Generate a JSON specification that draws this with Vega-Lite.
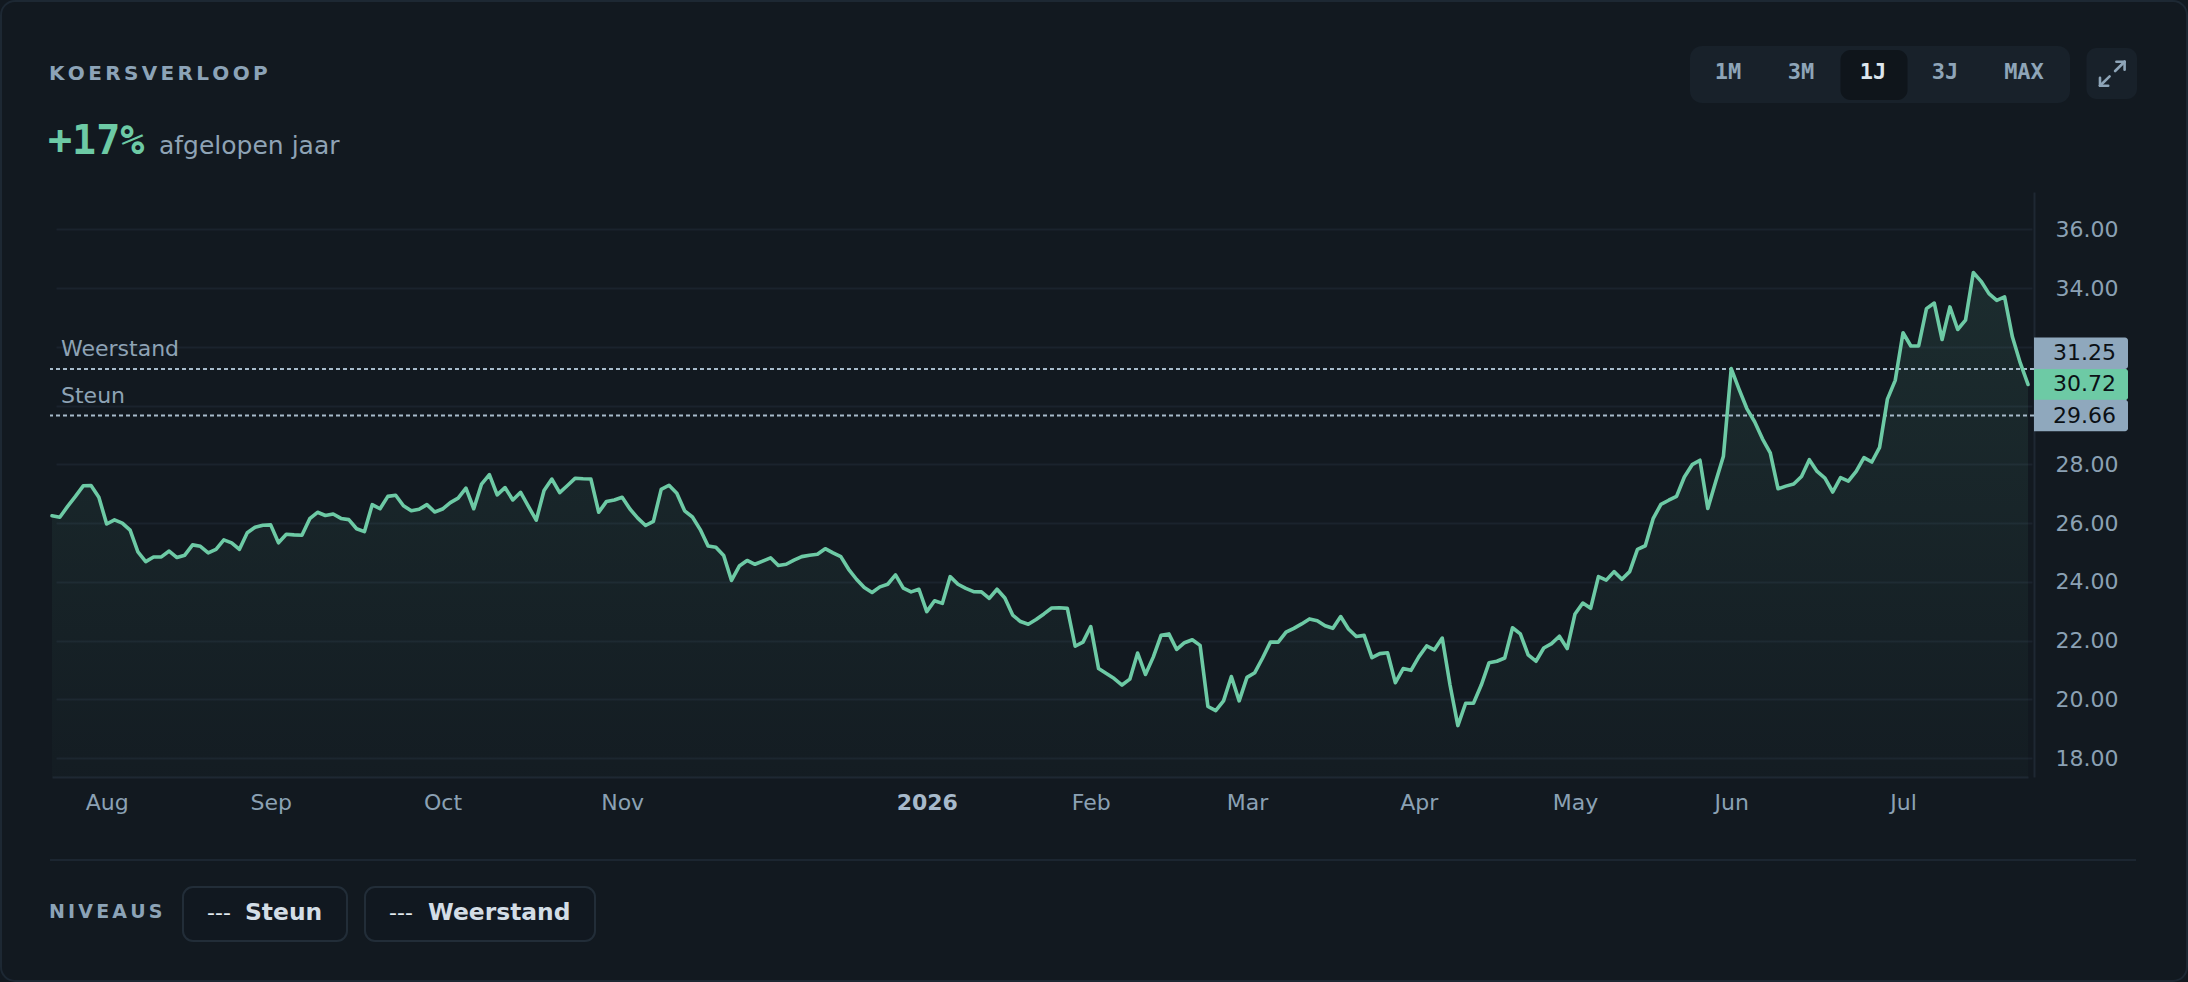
{
"$schema": "https://vega.github.io/schema/vega-lite/v6.json",
"width": 1984,
"height": 585,
"autosize": {"type": "none"},
"padding": {"left": 50, "top": 192, "right": 154, "bottom": 205},
"background": "#121920",
"config": {"view": {"stroke": null}, "font": "DejaVu Sans"},
"datasets": {
"koers": [
{"d":"2025-07-23","v":26.25},{"d":"2025-07-24","v":26.20},{"d":"2025-07-25","v":26.57},{"d":"2025-07-28","v":26.91},{"d":"2025-07-29","v":27.27},{"d":"2025-07-30","v":27.28},{"d":"2025-07-31","v":26.88},
{"d":"2025-08-01","v":25.97},{"d":"2025-08-04","v":26.11},{"d":"2025-08-05","v":26.00},{"d":"2025-08-06","v":25.76},{"d":"2025-08-07","v":25.02},{"d":"2025-08-08","v":24.69},{"d":"2025-08-11","v":24.85},{"d":"2025-08-12","v":24.85},{"d":"2025-08-13","v":25.05},{"d":"2025-08-14","v":24.83},{"d":"2025-08-15","v":24.91},{"d":"2025-08-18","v":25.26},{"d":"2025-08-19","v":25.21},{"d":"2025-08-20","v":24.99},{"d":"2025-08-21","v":25.11},{"d":"2025-08-22","v":25.43},{"d":"2025-08-25","v":25.33},{"d":"2025-08-26","v":25.11},{"d":"2025-08-27","v":25.67},{"d":"2025-08-28","v":25.86},{"d":"2025-08-29","v":25.93},
{"d":"2025-09-01","v":25.94},{"d":"2025-09-02","v":25.33},{"d":"2025-09-03","v":25.62},{"d":"2025-09-04","v":25.60},{"d":"2025-09-05","v":25.59},{"d":"2025-09-08","v":26.15},{"d":"2025-09-09","v":26.37},{"d":"2025-09-10","v":26.26},{"d":"2025-09-11","v":26.31},{"d":"2025-09-12","v":26.16},{"d":"2025-09-15","v":26.12},{"d":"2025-09-16","v":25.81},{"d":"2025-09-17","v":25.71},{"d":"2025-09-18","v":26.63},{"d":"2025-09-19","v":26.49},{"d":"2025-09-22","v":26.91},{"d":"2025-09-23","v":26.95},{"d":"2025-09-24","v":26.59},{"d":"2025-09-25","v":26.42},{"d":"2025-09-26","v":26.47},{"d":"2025-09-29","v":26.63},{"d":"2025-09-30","v":26.38},
{"d":"2025-10-01","v":26.48},{"d":"2025-10-02","v":26.70},{"d":"2025-10-03","v":26.85},{"d":"2025-10-06","v":27.19},{"d":"2025-10-07","v":26.49},{"d":"2025-10-08","v":27.33},{"d":"2025-10-09","v":27.65},{"d":"2025-10-10","v":26.96},{"d":"2025-10-13","v":27.21},{"d":"2025-10-14","v":26.79},{"d":"2025-10-15","v":27.05},{"d":"2025-10-16","v":26.57},{"d":"2025-10-17","v":26.10},{"d":"2025-10-20","v":27.11},{"d":"2025-10-21","v":27.50},{"d":"2025-10-22","v":27.04},{"d":"2025-10-23","v":27.28},{"d":"2025-10-24","v":27.53},{"d":"2025-10-27","v":27.51},{"d":"2025-10-28","v":27.50},{"d":"2025-10-29","v":26.37},{"d":"2025-10-30","v":26.74},{"d":"2025-10-31","v":26.79},
{"d":"2025-11-03","v":26.88},{"d":"2025-11-04","v":26.48},{"d":"2025-11-05","v":26.17},{"d":"2025-11-06","v":25.92},{"d":"2025-11-07","v":26.06},{"d":"2025-11-10","v":27.15},{"d":"2025-11-11","v":27.29},{"d":"2025-11-12","v":27.02},{"d":"2025-11-13","v":26.42},{"d":"2025-11-14","v":26.21},{"d":"2025-11-17","v":25.78},{"d":"2025-11-18","v":25.22},{"d":"2025-11-19","v":25.18},{"d":"2025-11-20","v":24.90},{"d":"2025-11-21","v":24.05},{"d":"2025-11-24","v":24.54},{"d":"2025-11-25","v":24.73},{"d":"2025-11-26","v":24.60},{"d":"2025-11-27","v":24.71},{"d":"2025-11-28","v":24.82},
{"d":"2025-12-01","v":24.56},{"d":"2025-12-02","v":24.60},{"d":"2025-12-03","v":24.74},{"d":"2025-12-04","v":24.86},{"d":"2025-12-05","v":24.91},{"d":"2025-12-08","v":24.94},{"d":"2025-12-09","v":25.13},{"d":"2025-12-10","v":24.99},{"d":"2025-12-11","v":24.86},{"d":"2025-12-12","v":24.43},{"d":"2025-12-15","v":24.09},{"d":"2025-12-16","v":23.81},{"d":"2025-12-17","v":23.64},{"d":"2025-12-18","v":23.83},{"d":"2025-12-19","v":23.92},{"d":"2025-12-22","v":24.24},{"d":"2025-12-23","v":23.79},{"d":"2025-12-29","v":23.66},{"d":"2025-12-30","v":23.75},
{"d":"2026-01-02","v":22.99},{"d":"2026-01-05","v":23.36},{"d":"2026-01-06","v":23.27},{"d":"2026-01-07","v":24.18},{"d":"2026-01-08","v":23.92},{"d":"2026-01-09","v":23.78},{"d":"2026-01-12","v":23.67},{"d":"2026-01-13","v":23.66},{"d":"2026-01-14","v":23.44},{"d":"2026-01-15","v":23.75},{"d":"2026-01-16","v":23.45},{"d":"2026-01-19","v":22.87},{"d":"2026-01-20","v":22.65},{"d":"2026-01-21","v":22.56},{"d":"2026-01-22","v":22.72},{"d":"2026-01-23","v":22.91},{"d":"2026-01-26","v":23.11},{"d":"2026-01-27","v":23.12},{"d":"2026-01-28","v":23.10},{"d":"2026-01-29","v":21.81},{"d":"2026-01-30","v":21.95},
{"d":"2026-02-02","v":22.48},{"d":"2026-02-03","v":21.05},{"d":"2026-02-04","v":20.88},{"d":"2026-02-05","v":20.71},{"d":"2026-02-06","v":20.49},{"d":"2026-02-09","v":20.69},{"d":"2026-02-10","v":21.58},{"d":"2026-02-11","v":20.85},{"d":"2026-02-12","v":21.44},{"d":"2026-02-13","v":22.18},{"d":"2026-02-16","v":22.23},{"d":"2026-02-17","v":21.70},{"d":"2026-02-18","v":21.93},{"d":"2026-02-19","v":22.03},{"d":"2026-02-20","v":21.84},{"d":"2026-02-23","v":19.76},{"d":"2026-02-24","v":19.62},{"d":"2026-02-25","v":19.95},{"d":"2026-02-26","v":20.78},{"d":"2026-02-27","v":19.95},
{"d":"2026-03-02","v":20.75},{"d":"2026-03-03","v":20.91},{"d":"2026-03-04","v":21.41},{"d":"2026-03-05","v":21.95},{"d":"2026-03-06","v":21.95},{"d":"2026-03-09","v":22.29},{"d":"2026-03-10","v":22.42},{"d":"2026-03-11","v":22.57},{"d":"2026-03-12","v":22.74},{"d":"2026-03-13","v":22.68},{"d":"2026-03-16","v":22.51},{"d":"2026-03-17","v":22.42},{"d":"2026-03-18","v":22.82},{"d":"2026-03-19","v":22.40},{"d":"2026-03-20","v":22.14},{"d":"2026-03-23","v":22.18},{"d":"2026-03-24","v":21.42},{"d":"2026-03-25","v":21.56},{"d":"2026-03-26","v":21.59},{"d":"2026-03-27","v":20.57},{"d":"2026-03-30","v":21.05},{"d":"2026-03-31","v":20.99},
{"d":"2026-04-01","v":21.45},{"d":"2026-04-02","v":21.82},{"d":"2026-04-07","v":21.69},{"d":"2026-04-08","v":22.09},{"d":"2026-04-09","v":20.49},{"d":"2026-04-10","v":19.11},{"d":"2026-04-13","v":19.87},{"d":"2026-04-14","v":19.87},{"d":"2026-04-15","v":20.49},{"d":"2026-04-16","v":21.25},{"d":"2026-04-17","v":21.30},{"d":"2026-04-20","v":21.41},{"d":"2026-04-21","v":22.44},{"d":"2026-04-22","v":22.23},{"d":"2026-04-23","v":21.52},{"d":"2026-04-24","v":21.30},{"d":"2026-04-27","v":21.75},{"d":"2026-04-28","v":21.90},{"d":"2026-04-29","v":22.15},{"d":"2026-04-30","v":21.73},
{"d":"2026-05-04","v":22.91},{"d":"2026-05-05","v":23.28},{"d":"2026-05-06","v":23.10},{"d":"2026-05-07","v":24.18},{"d":"2026-05-08","v":24.06},{"d":"2026-05-11","v":24.35},{"d":"2026-05-12","v":24.09},{"d":"2026-05-13","v":24.35},{"d":"2026-05-14","v":25.11},{"d":"2026-05-15","v":25.23},{"d":"2026-05-18","v":26.15},{"d":"2026-05-19","v":26.64},{"d":"2026-05-20","v":26.78},{"d":"2026-05-21","v":26.91},{"d":"2026-05-22","v":27.57},{"d":"2026-05-25","v":27.99},{"d":"2026-05-26","v":28.14},{"d":"2026-05-27","v":26.50},{"d":"2026-05-28","v":27.40},{"d":"2026-05-29","v":28.28},
{"d":"2026-06-01","v":31.26},{"d":"2026-06-02","v":30.56},{"d":"2026-06-03","v":29.90},{"d":"2026-06-04","v":29.45},{"d":"2026-06-05","v":28.87},{"d":"2026-06-08","v":28.39},{"d":"2026-06-09","v":27.17},{"d":"2026-06-10","v":27.26},{"d":"2026-06-11","v":27.33},{"d":"2026-06-12","v":27.59},{"d":"2026-06-15","v":28.16},{"d":"2026-06-16","v":27.76},{"d":"2026-06-17","v":27.53},{"d":"2026-06-18","v":27.06},{"d":"2026-06-19","v":27.55},{"d":"2026-06-22","v":27.43},{"d":"2026-06-23","v":27.76},{"d":"2026-06-24","v":28.23},{"d":"2026-06-25","v":28.08},{"d":"2026-06-26","v":28.58},{"d":"2026-06-29","v":30.22},{"d":"2026-06-30","v":30.86},
{"d":"2026-07-01","v":32.48},{"d":"2026-07-02","v":32.03},{"d":"2026-07-03","v":32.03},{"d":"2026-07-06","v":33.30},{"d":"2026-07-07","v":33.49},{"d":"2026-07-08","v":32.25},{"d":"2026-07-09","v":33.36},{"d":"2026-07-10","v":32.59},{"d":"2026-07-13","v":32.91},{"d":"2026-07-14","v":34.53},{"d":"2026-07-15","v":34.23},{"d":"2026-07-16","v":33.81},{"d":"2026-07-17","v":33.58},{"d":"2026-07-20","v":33.70},{"d":"2026-07-21","v":32.34},{"d":"2026-07-22","v":31.46},{"d":"2026-07-23","v":30.72}
],
"niveaus": [{"k":"Steun","v":29.66},{"k":"Weerstand","v":31.25}],
"prijzen": [{"k":"Weerstand","v":31.25},{"k":"Koers","v":30.72},{"k":"Steun","v":29.66}]
},
"layer": [
{"data": {"values": [{}]}, "mark": {"type": "rect", "fill": "transparent", "stroke": "#1d2833", "strokeWidth": 2, "cornerRadius": 14},
 "encoding": {"x": {"value": -49}, "x2": {"value": 2137}, "y": {"value": -191}, "y2": {"value": 789}}},
{"data": {"name": "koers"},
 "mark": {"type": "area", "fill": {"gradient": "linear", "x1": 0, "y1": 0, "x2": 0, "y2": 1, "stops": [{"offset": 0, "color": "rgba(109,202,165,0.11)"}, {"offset": 1, "color": "rgba(109,202,165,0.02)"}]}},
 "encoding": {
  "x": {"field": "d", "type": "ordinal", "sort": "ascending", "scale": {"type": "point", "range": [2, 1978], "padding": 0},
   "axis": {"title": null, "values": ["2025-08-01","2025-09-01","2025-10-01","2025-11-03","2026-01-02","2026-02-02","2026-03-02","2026-04-01","2026-05-04","2026-06-01","2026-07-01"],
    "labelExpr": "datum.value == '2026-01-02' ? '2026' : utcFormat(toDate(datum.value), '%b')",
    "labelAngle": 0, "labelFont": "DejaVu Sans", "labelFontSize": 22,
    "labelColor": {"condition": {"test": "datum.value == '2026-01-02'", "value": "#a7bacb"}, "value": "#8ba1b4"},
    "labelFontWeight": {"condition": {"test": "datum.value == '2026-01-02'", "value": "bold"}, "value": "normal"},
    "labelBaseline": "middle", "labelPadding": 25, "ticks": false, "tickSize": 0, "grid": false,
    "domain": true, "domainColor": "#1e2833", "domainWidth": 2, "labelOverlap": false, "labelFlush": false, "labelBound": false}},
  "y": {"field": "v", "type": "quantitative", "scale": {"domain": [17.36, 37.27], "nice": false, "zero": false},
   "axis": {"orient": "right", "title": null, "values": [18,20,22,24,26,28,30,32,34,36],
    "labelExpr": "datum.value == 30 || datum.value == 32 ? '' : format(datum.value, '.2f')",
    "labelFont": "DejaVu Sans", "labelFontSize": 22, "labelColor": "#8ba1b4", "labelAlign": "left", "labelBaseline": "middle", "labelPadding": 21,
    "ticks": false, "tickSize": 0, "grid": true, "gridColor": "#1a232d", "gridWidth": 2,
    "domain": true, "domainColor": "#1e2833", "domainWidth": 2, "labelOverlap": false}},
  "y2": {"datum": 17.36}
 }},
{"data": {"name": "niveaus"}, "mark": {"type": "rule", "stroke": "#a7bbcb", "strokeWidth": 2, "strokeDash": [4, 3]},
 "encoding": {"y": {"field": "v", "type": "quantitative"}}},
{"data": {"name": "koers"}, "mark": {"type": "line", "stroke": "#6dcaa5", "strokeWidth": 3.6, "strokeJoin": "round", "strokeCap": "round"},
 "encoding": {"x": {"field": "d", "type": "ordinal", "sort": "ascending"}, "y": {"field": "v", "type": "quantitative"}}},
{"data": {"name": "niveaus"}, "mark": {"type": "text", "align": "left", "baseline": "alphabetic", "dy": -13, "fontSize": 22, "fill": "#8ea3b5", "font": "DejaVu Sans"},
 "encoding": {"x": {"value": 11}, "y": {"field": "v", "type": "quantitative"}, "text": {"field": "k"}}},
{"data": {"name": "prijzen"}, "transform": [{"filter": "datum.k != 'Weerstand'"}],
 "mark": {"type": "rect", "yOffset": -15.75, "y2Offset": 15.75, "x2Offset": 94, "cornerRadiusTopRight": 3, "cornerRadiusBottomRight": 3},
 "encoding": {"x": {"value": "width"}, "x2": {"value": "width"}, "y": {"field": "v", "type": "quantitative"}, "y2": {"field": "v"},
  "fill": {"condition": {"test": "datum.k == 'Koers'", "value": "#6dcaa5"}, "value": "#8fa8bd"}}},
{"data": {"name": "prijzen"}, "transform": [{"filter": "datum.k == 'Weerstand'"}],
 "mark": {"type": "rect", "yOffset": -31.5, "y2Offset": 0, "x2Offset": 94, "cornerRadiusTopRight": 3, "cornerRadiusBottomRight": 3, "fill": "#8fa8bd"},
 "encoding": {"x": {"value": "width"}, "x2": {"value": "width"}, "y": {"field": "v", "type": "quantitative"}, "y2": {"field": "v"}}},
{"data": {"name": "prijzen"}, "transform": [{"filter": "datum.k != 'Weerstand'"}],
 "mark": {"type": "text", "align": "right", "baseline": "middle", "dx": 82, "fontSize": 22, "fill": "#0b1015", "font": "DejaVu Sans"},
 "encoding": {"x": {"value": "width"}, "y": {"field": "v", "type": "quantitative"}, "text": {"field": "v", "type": "quantitative", "format": ".2f"}}},
{"data": {"name": "prijzen"}, "transform": [{"filter": "datum.k == 'Weerstand'"}],
 "mark": {"type": "text", "align": "right", "baseline": "middle", "dx": 82, "dy": -15.75, "fontSize": 22, "fill": "#0b1015", "font": "DejaVu Sans"},
 "encoding": {"x": {"value": "width"}, "y": {"field": "v", "type": "quantitative"}, "text": {"field": "v", "type": "quantitative", "format": ".2f"}}},

{"data": {"values": [{"t": "K\u2006O\u2006E\u2006R\u2006S\u2006V\u2006E\u2006R\u2006L\u2006O\u2006O\u2006P"}]}, "mark": {"type": "text", "align": "left", "baseline": "alphabetic", "fontSize": 20, "fontWeight": "bold", "fill": "#8ca3b7", "font": "DejaVu Sans"},
 "encoding": {"x": {"value": -1}, "y": {"value": -112}, "text": {"field": "t"}}},
{"data": {"values": [{"t": "+17%"}]}, "mark": {"type": "text", "align": "left", "baseline": "alphabetic", "fontSize": 40, "fontWeight": "bold", "fill": "#6dcaa5", "font": "DejaVu Sans Mono"},
 "encoding": {"x": {"value": -2}, "y": {"value": -38}, "text": {"field": "t"}}},
{"data": {"values": [{"t": "afgelopen jaar"}]}, "mark": {"type": "text", "align": "left", "baseline": "alphabetic", "fontSize": 25, "fill": "#8ea3b5", "font": "DejaVu Sans"},
 "encoding": {"x": {"value": 109}, "y": {"value": -38}, "text": {"field": "t"}}},

{"data": {"values": [{}]}, "mark": {"type": "rect", "fill": "#18212a", "cornerRadius": 12},
 "encoding": {"x": {"value": 1640}, "x2": {"value": 2020}, "y": {"value": -146}, "y2": {"value": -89}}},
{"data": {"values": [{}]}, "mark": {"type": "rect", "fill": "#0f151b", "cornerRadius": 10},
 "encoding": {"x": {"value": 1790.5}, "x2": {"value": 1857.5}, "y": {"value": -142}, "y2": {"value": -92}}},
{"data": {"values": [{"t": "1M"}]}, "mark": {"type": "text", "align": "center", "baseline": "middle", "fontSize": 22, "fontWeight": "bold", "fill": "#8ea5b8", "font": "DejaVu Sans Mono"},
 "encoding": {"x": {"value": 1678}, "y": {"value": -120}, "text": {"field": "t"}}},
{"data": {"values": [{"t": "3M"}]}, "mark": {"type": "text", "align": "center", "baseline": "middle", "fontSize": 22, "fontWeight": "bold", "fill": "#8ea5b8", "font": "DejaVu Sans Mono"},
 "encoding": {"x": {"value": 1751}, "y": {"value": -120}, "text": {"field": "t"}}},
{"data": {"values": [{"t": "1J"}]}, "mark": {"type": "text", "align": "center", "baseline": "middle", "fontSize": 22, "fontWeight": "bold", "fill": "#dde6ee", "font": "DejaVu Sans Mono"},
 "encoding": {"x": {"value": 1823}, "y": {"value": -120}, "text": {"field": "t"}}},
{"data": {"values": [{"t": "3J"}]}, "mark": {"type": "text", "align": "center", "baseline": "middle", "fontSize": 22, "fontWeight": "bold", "fill": "#8ea5b8", "font": "DejaVu Sans Mono"},
 "encoding": {"x": {"value": 1895}, "y": {"value": -120}, "text": {"field": "t"}}},
{"data": {"values": [{"t": "MAX"}]}, "mark": {"type": "text", "align": "center", "baseline": "middle", "fontSize": 22, "fontWeight": "bold", "fill": "#8ea5b8", "font": "DejaVu Sans Mono"},
 "encoding": {"x": {"value": 1974}, "y": {"value": -120}, "text": {"field": "t"}}},
{"data": {"values": [{}]}, "mark": {"type": "rect", "fill": "#18212a", "cornerRadius": 10},
 "encoding": {"x": {"value": 2036.5}, "x2": {"value": 2087}, "y": {"value": -144}, "y2": {"value": -93}}},
{"data": {"values": [{}]}, "mark": {"type": "rule", "stroke": "#8ea5b8", "strokeWidth": 2.6, "strokeCap": "round"},
 "encoding": {"x": {"value": 2066.4}, "x2": {"value": 2074.6}, "y": {"value": -130.3}, "y2": {"value": -130.3}}},
{"data": {"values": [{}]}, "mark": {"type": "rule", "stroke": "#8ea5b8", "strokeWidth": 2.6, "strokeCap": "round"},
 "encoding": {"x": {"value": 2074.6}, "x2": {"value": 2074.6}, "y": {"value": -130.3}, "y2": {"value": -122.3}}},
{"data": {"values": [{}]}, "mark": {"type": "rule", "stroke": "#8ea5b8", "strokeWidth": 2.6, "strokeCap": "round"},
 "encoding": {"x": {"value": 2074.6}, "x2": {"value": 2065.1}, "y": {"value": -130.3}, "y2": {"value": -121}}},
{"data": {"values": [{}]}, "mark": {"type": "rule", "stroke": "#8ea5b8", "strokeWidth": 2.6, "strokeCap": "round"},
 "encoding": {"x": {"value": 2050}, "x2": {"value": 2058.2}, "y": {"value": -106.3}, "y2": {"value": -106.3}}},
{"data": {"values": [{}]}, "mark": {"type": "rule", "stroke": "#8ea5b8", "strokeWidth": 2.6, "strokeCap": "round"},
 "encoding": {"x": {"value": 2050}, "x2": {"value": 2050}, "y": {"value": -106.3}, "y2": {"value": -114.3}}},
{"data": {"values": [{}]}, "mark": {"type": "rule", "stroke": "#8ea5b8", "strokeWidth": 2.6, "strokeCap": "round"},
 "encoding": {"x": {"value": 2050}, "x2": {"value": 2059.6}, "y": {"value": -106.3}, "y2": {"value": -115.6}}},

{"data": {"values": [{}]}, "mark": {"type": "rule", "stroke": "#1c2631", "strokeWidth": 2},
 "encoding": {"x": {"value": 0}, "x2": {"value": 2086}, "y": {"value": 668}, "y2": {"value": 668}}},
{"data": {"values": [{"t": "N\u2006I\u2006V\u2006E\u2006A\u2006U\u2006S"}]}, "mark": {"type": "text", "align": "left", "baseline": "middle", "fontSize": 19, "fontWeight": "bold", "fill": "#8ca3b7", "font": "DejaVu Sans"},
 "encoding": {"x": {"value": -1}, "y": {"value": 720}, "text": {"field": "t"}}},
{"data": {"values": [{}]}, "mark": {"type": "rect", "fill": "#111820", "stroke": "#222d38", "strokeWidth": 2, "cornerRadius": 10},
 "encoding": {"x": {"value": 133}, "x2": {"value": 297}, "y": {"value": 695}, "y2": {"value": 749}}},
{"data": {"values": [{}]}, "mark": {"type": "rect", "fill": "#111820", "stroke": "#222d38", "strokeWidth": 2, "cornerRadius": 10},
 "encoding": {"x": {"value": 315}, "x2": {"value": 545}, "y": {"value": 695}, "y2": {"value": 749}}},
{"data": {"values": [{"t": "---"}]}, "mark": {"type": "text", "align": "left", "baseline": "middle", "fontSize": 22, "fill": "#e4ebf1", "font": "DejaVu Sans"},
 "encoding": {"x": {"value": 157}, "y": {"value": 721}, "text": {"field": "t"}}},
{"data": {"values": [{"t": "Steun"}]}, "mark": {"type": "text", "align": "left", "baseline": "middle", "fontSize": 23.4, "fontWeight": "bold", "fill": "#d3dde6", "font": "DejaVu Sans"},
 "encoding": {"x": {"value": 195}, "y": {"value": 721}, "text": {"field": "t"}}},
{"data": {"values": [{"t": "---"}]}, "mark": {"type": "text", "align": "left", "baseline": "middle", "fontSize": 22, "fill": "#e4ebf1", "font": "DejaVu Sans"},
 "encoding": {"x": {"value": 339}, "y": {"value": 721}, "text": {"field": "t"}}},
{"data": {"values": [{"t": "Weerstand"}]}, "mark": {"type": "text", "align": "left", "baseline": "middle", "fontSize": 23.4, "fontWeight": "bold", "fill": "#d3dde6", "font": "DejaVu Sans"},
 "encoding": {"x": {"value": 378}, "y": {"value": 721}, "text": {"field": "t"}}}
]
}
